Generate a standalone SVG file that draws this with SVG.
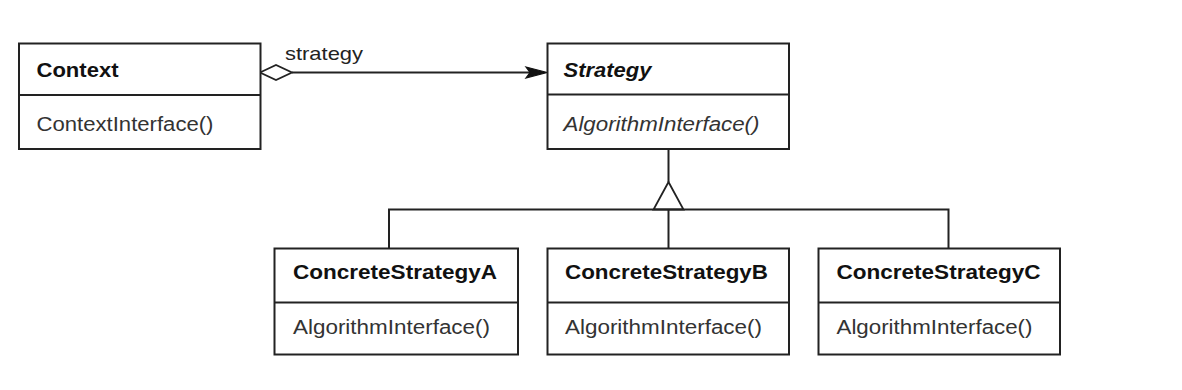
<svg xmlns="http://www.w3.org/2000/svg" width="1182" height="390" viewBox="0 0 1182 390">
<style>
.box{fill:#fff;stroke:#222;stroke-width:2}
.div{stroke:#222;stroke-width:2}
.ln{stroke:#222;stroke-width:2;fill:none}
.t{font-family:"Liberation Sans",Arial,sans-serif;font-size:19.5px;font-weight:bold;fill:#111}
.m{font-family:"Liberation Sans",Arial,sans-serif;font-size:19.5px;fill:#333}
.i{font-style:italic}
</style>
<rect width="1182" height="390" fill="#fff"/>
<g id="connectors">
<polygon points="260,72.5 276,65 292,72.5 276,80" fill="#fff" stroke="#222" stroke-width="1.8"/>
<line x1="292" y1="72.5" x2="530" y2="72.5" class="ln"/>
<polygon points="526,67 547,72.5 526,78 530,72.5" fill="#111" stroke="#111" stroke-width="1.2"/>
<line x1="668.5" y1="149" x2="668.5" y2="182" class="ln"/>
<polygon points="668.5,182 653.5,209.5 683.5,209.5" fill="#fff" stroke="#222" stroke-width="1.8"/>
<polyline points="389,248 389,209.5 948.5,209.5 948.5,248" class="ln"/>
<line x1="668.5" y1="209.5" x2="668.5" y2="248" class="ln"/>
<text x="285" y="60" class="m" style="fill:#222;font-size:18.5px" textLength="78" lengthAdjust="spacingAndGlyphs">strategy</text>
</g>
<g id="context">
<rect x="19" y="43.5" width="241.5" height="105.5" class="box"/>
<line x1="19" y1="95" x2="260.5" y2="95" class="div"/>
<text x="36.5" y="77" class="t" textLength="82" lengthAdjust="spacingAndGlyphs">Context</text>
<text x="36.5" y="130.5" class="m" textLength="177" lengthAdjust="spacingAndGlyphs">ContextInterface()</text>
</g>
<g id="strategy">
<rect x="547.5" y="43.5" width="241.5" height="105.5" class="box"/>
<line x1="547.5" y1="94.5" x2="789" y2="94.5" class="div"/>
<text x="563.5" y="77" class="t i" textLength="88" lengthAdjust="spacingAndGlyphs">Strategy</text>
<text x="563.5" y="130.5" class="m i" textLength="196" lengthAdjust="spacingAndGlyphs">AlgorithmInterface()</text>
</g>
<g id="concreteA">
<rect x="274.5" y="248.5" width="243.5" height="106" class="box"/>
<line x1="274.5" y1="302.5" x2="518" y2="302.5" class="div"/>
<text x="293" y="278.5" class="t" textLength="204" lengthAdjust="spacingAndGlyphs">ConcreteStrategyA</text>
<text x="293" y="334" class="m" textLength="197" lengthAdjust="spacingAndGlyphs">AlgorithmInterface()</text>
</g>
<g id="concreteB">
<rect x="547.5" y="248.5" width="241.5" height="106" class="box"/>
<line x1="547.5" y1="302.5" x2="789" y2="302.5" class="div"/>
<text x="565" y="278.5" class="t" textLength="203" lengthAdjust="spacingAndGlyphs">ConcreteStrategyB</text>
<text x="565" y="334" class="m" textLength="197" lengthAdjust="spacingAndGlyphs">AlgorithmInterface()</text>
</g>
<g id="concreteC">
<rect x="818.5" y="248.5" width="241.5" height="106" class="box"/>
<line x1="818.5" y1="302.5" x2="1060" y2="302.5" class="div"/>
<text x="836.5" y="278.5" class="t" textLength="204" lengthAdjust="spacingAndGlyphs">ConcreteStrategyC</text>
<text x="836.5" y="334" class="m" textLength="196" lengthAdjust="spacingAndGlyphs">AlgorithmInterface()</text>
</g>
</svg>
